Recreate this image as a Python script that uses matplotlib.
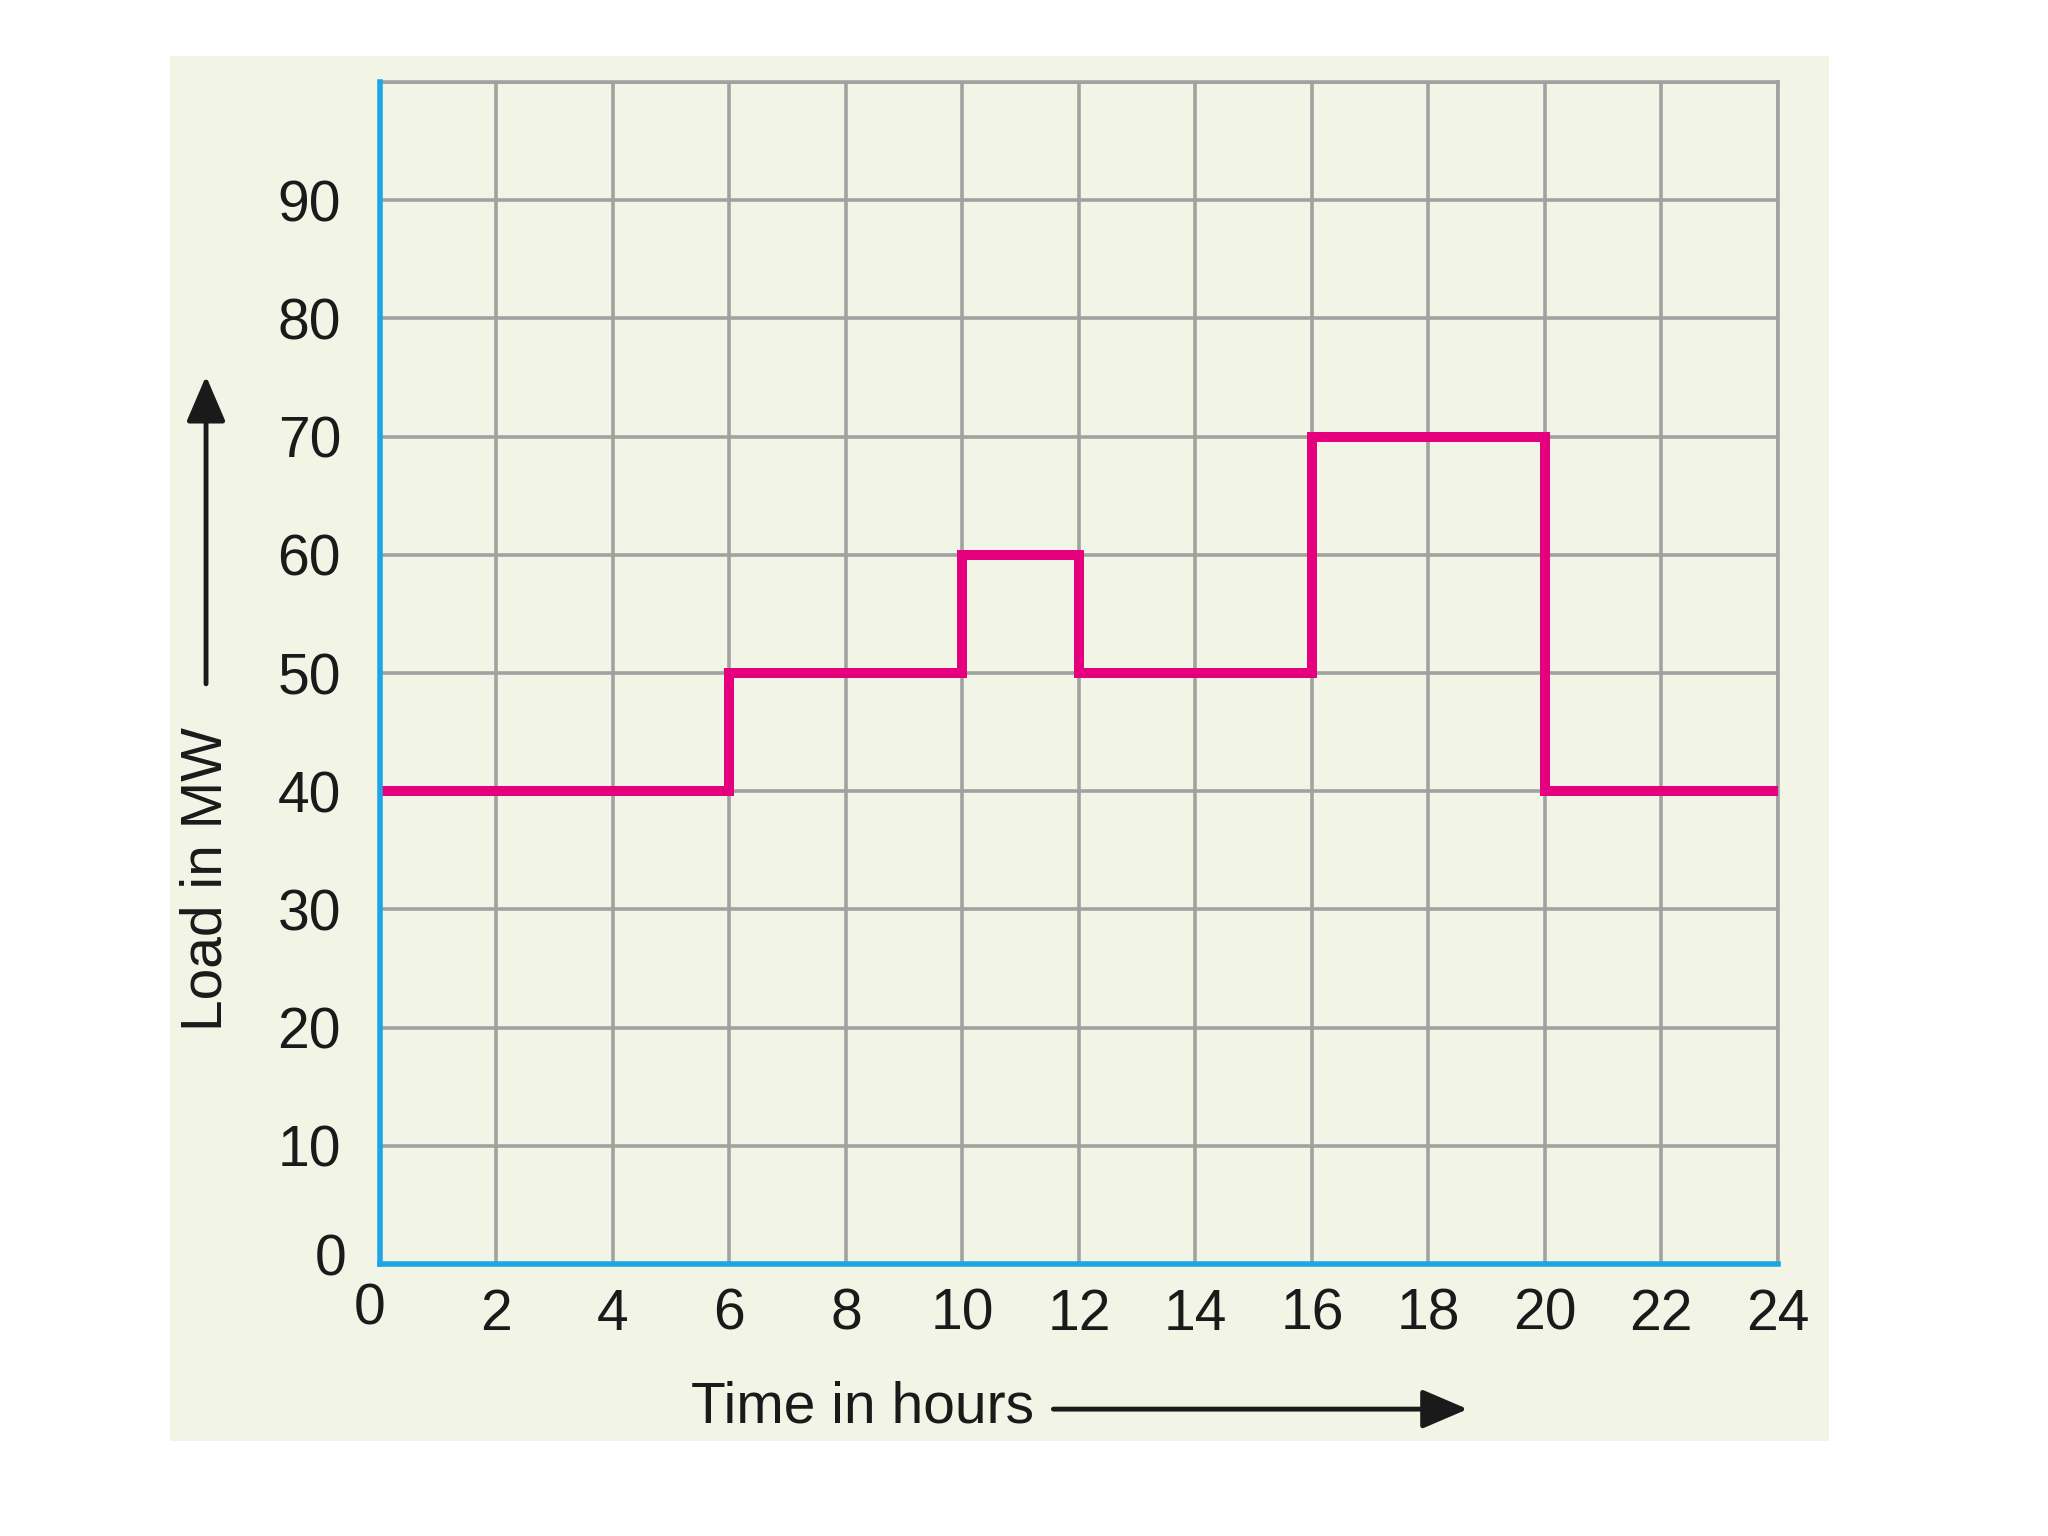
import matplotlib
matplotlib.use("Agg")
import matplotlib.pyplot as plt
from matplotlib.patches import Rectangle, FancyArrowPatch
import matplotlib.transforms as mtransforms

plt.rcParams['font.family'] = ['Liberation Sans', 'DejaVu Sans']

# load curve data
hours = [0, 6, 10, 12, 16, 20, 24]
load_mw = [40, 50, 60, 50, 70, 40]
x_ticks = list(range(0, 25, 2))
y_ticks = list(range(0, 100, 10))

bg = '#F2F5E6'
grid_c = '#A0A2A0'
blue = '#1EA5E6'
pink = '#E6007E'

fig = plt.figure(figsize=(20.48, 15.36), dpi=100)
fig.patch.set_facecolor('white')

# pale panel behind the chart
fig.patches.append(Rectangle((0.083, 0.0618), 0.810, 0.9017, transform=fig.transFigure,
                             facecolor=bg, edgecolor='none', zorder=-10))

ax = fig.add_axes([0.1855, 0.177, 0.6826, 0.7696])
ax.set_facecolor(bg)
ax.set_xlim(0, 24)
ax.set_ylim(0, 100)

ax.set_xticks(x_ticks)
ax.set_yticks(list(range(0, 101, 10)))
ax.set_yticklabels([str(v) for v in y_ticks] + [''])
ax.grid(True, color=grid_c, linewidth=2.6, zorder=1)
ax.tick_params(length=0, labelsize=41, colors='#1a1a1a')
ax.tick_params(axis='x', pad=17)
ax.tick_params(axis='y', pad=28)

for s in ['top', 'right']:
    ax.spines[s].set_color(grid_c)
    ax.spines[s].set_linewidth(2.6)
for s in ['left', 'bottom']:
    ax.spines[s].set_color(blue)
    ax.spines[s].set_linewidth(4.0)
    ax.spines[s].set_zorder(4)

# the zero labels sit a bit off the corner
xl = ax.get_xticklabels()
xl[0].set_transform(xl[0].get_transform() + mtransforms.ScaledTranslation(-0.1, 0.05, fig.dpi_scale_trans))
yl = ax.get_yticklabels()
yl[0].set_transform(yl[0].get_transform() + mtransforms.ScaledTranslation(0.05, 0.1, fig.dpi_scale_trans))

st = ax.stairs(load_mw, hours, baseline=None, color=pink, linewidth=7.2, zorder=3)
st.set_joinstyle('miter')
st.set_capstyle('butt')

# axis titles with arrows
fig.text(0.1006, 0.428, 'Load in MW', rotation=90, ha='center', va='center', fontsize=41, color='#1a1a1a')
fig.add_artist(FancyArrowPatch((0.1006, 0.553), (0.1006, 0.757), transform=fig.transFigure,
                               arrowstyle='-|>,head_length=1.4,head_width=0.6',
                               mutation_scale=20, color='#1a1a1a', linewidth=3.5))
fig.text(0.421, 0.0835, 'Time in hours', ha='center', va='center', fontsize=41, color='#1a1a1a')
fig.add_artist(FancyArrowPatch((0.513, 0.0826), (0.718, 0.0826), transform=fig.transFigure,
                               arrowstyle='-|>,head_length=1.4,head_width=0.6',
                               mutation_scale=20, color='#1a1a1a', linewidth=3.5))

fig.savefig('out.png', dpi=100, facecolor='white')
